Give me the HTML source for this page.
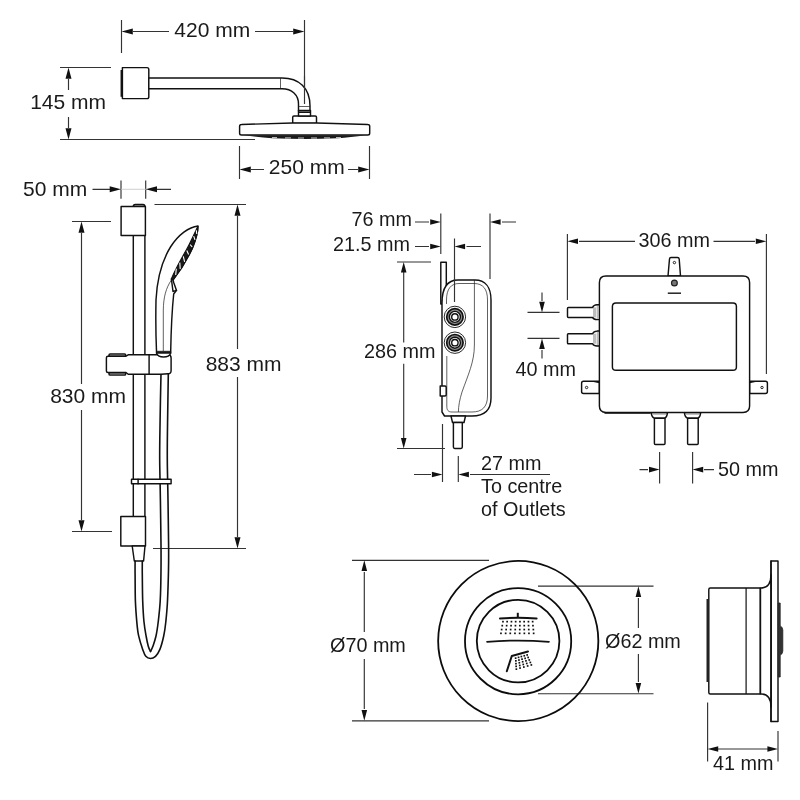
<!DOCTYPE html>
<html>
<head>
<meta charset="utf-8">
<title>Shower dimensions</title>
<style>
html,body{margin:0;padding:0;background:#fff;}
body{width:800px;height:800px;overflow:hidden;font-family:"Liberation Sans",sans-serif;}
svg{display:block;position:absolute;left:0;top:0;filter:grayscale(1);}
.o{fill:none;stroke:#111;stroke-width:1.45;stroke-linejoin:round;stroke-linecap:round;}
.of{fill:#fff;stroke:#111;stroke-width:1.45;stroke-linejoin:round;stroke-linecap:round;}
.t{fill:none;stroke:#1c1c1c;stroke-width:0.7;}
.k{fill:none;stroke:#111;stroke-width:1.9;stroke-linecap:round;stroke-linejoin:round;}
.h{stroke-width:1.6;}
.c{fill:none;stroke:#0c0c0c;stroke-width:1.8;}
.d{fill:none;stroke:#333;stroke-width:1.15;}
.a{fill:#111;stroke:none;}
text{font-family:"Liberation Sans",sans-serif;font-size:19.8px;fill:#1a1a1a;}
text.L{font-size:21px;}
</style>
</head>
<body>
<svg width="800" height="800" viewBox="0 0 800 800">
<rect width="800" height="800" fill="#fff"/>

<!-- ================= FIXED HEAD (top) ================= -->
<g id="fixedhead">
  <!-- dims 420 -->
  <path class="d" d="M121.5 20V53M304.5 20V104M133 31.5H169M255 31.5H293"/>
  <path class="a" d="M121.5 31.5l11.3-3v6zM304.5 31.5l-11.3-3v6z"/>
  <text class="L" x="174.3" y="37">420 mm</text>
  <!-- dims 145 -->
  <path class="d" d="M60 67.5H111M60 139.5H255M68.5 79V90M68.5 117V128"/>
  <path class="a" d="M68.5 67.5l-3 11.3h6zM68.5 139.5l-3-11.3h6z"/>
  <text class="L" x="30.2" y="109.2">145 mm</text>
  <!-- dims 250 -->
  <path class="d" d="M239.5 146V179M369.5 146V179M251 169.5H264M348 169.5H358"/>
  <path class="a" d="M239.5 169.5l11.3-3v6zM369.5 169.5l-11.3-3v6z"/>
  <text class="L" x="268.8" y="174">250 mm</text>
  <!-- bracket -->
  <path class="of" d="M122.4 67.6H147Q148.800 67.600 148.800 69.500V96.700Q148.800 98.600 147 98.600H122.400Z"/>
  <path d="M121.500 70V96.800" stroke="#111" stroke-width="1.900" fill="none"/>
  <!-- arm -->
  <path class="of" d="M148.800 78H282C299 78 310 88 310 106V111H298.500V104C298.500 95 292 88.800 282 88.800H148.800Z"/>
  <path class="t" d="M280.500 78V88.800M298.500 106.500H310"/>
  <!-- connector -->
  <path class="of" d="M292.700 123.500V117.300Q292.700 116 294 116H315.200Q316.500 116 316.500 117.300V123.500Z"/>
  <path class="of" d="M298.500 110.500H310.500V116H298.500Z"/>
  <path d="M298.500 112.200H310.500" stroke="#111" stroke-width="1.600" fill="none"/>
  <!-- head -->
  <path class="of" d="M239.600 126.300Q239.600 124.500 241.500 124.500L292.500 123H317L367.800 124.500Q369.700 124.500 369.700 126.300V133.200Q369.700 135 367.800 135H241.500Q239.600 135 239.600 133.200Z"/>
  <path class="d" d="M304.500 76V104"/>
  <path d="M244 135.300H365.500Q350 137.300 338 138.300Q305 139.600 272 138.300Q260 137.300 244 135.300Z" fill="#1a1a1a"/>
  <path d="M272 137.600h5M285 137.900h6M298 138h6M311 138h6M324 137.900h6M336 137.600h5" stroke="#ddd" stroke-width="0.900" fill="none"/>
</g>

<!-- ================= RAIL KIT (left) ================= -->
<g id="rail">
  <!-- 50 mm -->
  <path class="d" d="M121 180.500V198.700M145.700 180.500V198.700M92.500 189.300H110M157 189.300H171"/>
  <path d="M121 189.300H146" stroke="#c4c4c4" stroke-width="0.800" fill="none"/>
  <path class="a" d="M121 189.300l-11.3-3v6zM145.700 189.300l11.3-3v6z"/>
  <text class="L" x="23" y="196.3">50 mm</text>
  <!-- 883 -->
  <path class="d" d="M154.500 204.500H246M153 548.500H246M237.500 216V349M237.500 377V537"/>
  <path class="a" d="M237.500 204.500l-3 11.3h6zM237.500 548.500l-3-11.3h6z"/>
  <text class="L" x="205.7" y="370.6">883 mm</text>
  <!-- 830 -->
  <path class="d" d="M72 221.500H111M72 531.500H112M81.500 233V384M81.500 410V520"/>
  <path class="a" d="M81.500 221.500l-3 11.3h6zM81.500 531.500l-3-11.3h6z"/>
  <text class="L" x="50.2" y="403.4">830 mm</text>

  <!-- rail tube -->
  <path class="o" d="M133.300 235.500V517M144.900 235.500V517"/>
  <!-- top bracket -->
  <path class="of" d="M133.300 206.500Q133.300 204.400 135.300 204.400H143Q144.900 204.400 144.900 206.500Z"/>
  <path class="of" d="M121.100 206.500H145.400V235.500H121.100Z"/>
  <!-- bottom bracket -->
  <path class="of" d="M120.800 516.500H145.500V546H120.800Z"/>
  <path class="of" d="M132.200 546H145L143.600 561H134.300Z"/>
  <!-- hose (right side down from slider, loop, back to lower bracket) -->
  <path class="o h" d="M168.3 374.0C168.2 381.7 167.8 405.7 167.6 420.0C167.4 434.3 167.2 446.7 167.3 460.0C167.4 473.3 167.8 485.8 168.0 500.0C168.2 514.2 168.5 533.3 168.6 545.0C168.7 556.7 168.7 560.7 168.5 570.0C168.3 579.3 167.9 592.3 167.5 601.0C167.1 609.7 166.4 616.2 165.8 622.0C165.2 627.8 164.7 631.4 163.7 636.0C162.7 640.6 161.3 646.0 159.9 649.4C158.5 652.8 157.1 654.8 155.5 656.3C153.9 657.8 152.1 658.5 150.5 658.5C148.9 658.5 147.1 657.8 145.8 656.3C144.5 654.8 143.9 652.8 142.7 649.4C141.5 646.0 139.6 640.3 138.6 635.7C137.6 631.1 137.3 627.6 136.8 621.9C136.3 616.2 135.7 609.1 135.4 601.3C135.1 593.5 135.2 581.7 135.1 575.0C135.0 568.3 135.1 563.3 135.1 561.0"/>
  <path class="o h" d="M161.0 374.0C160.8 381.7 160.3 405.7 160.1 420.0C159.9 434.3 159.6 446.7 159.7 460.0C159.8 473.3 160.2 485.8 160.4 500.0C160.6 514.2 160.9 533.3 161.0 545.0C161.1 556.7 161.1 560.7 161.0 570.0C160.9 579.3 160.7 592.3 160.2 601.0C159.7 609.7 158.9 616.2 158.2 622.0C157.5 627.8 156.9 632.0 156.0 636.0C155.1 640.0 153.9 643.4 153.0 646.0C152.1 648.6 150.9 650.6 150.5 651.5"/>
  <path class="o h" d="M150.5 651.5C150.1 650.6 148.9 648.6 148.2 646.0C147.5 643.4 146.8 640.0 146.1 636.0C145.4 632.0 144.6 627.8 144.0 622.0C143.4 616.2 143.0 608.8 142.7 601.0C142.4 593.2 142.4 581.7 142.3 575.0C142.2 568.3 142.3 563.3 142.3 561.0"/>
  <!-- ring clip -->
  <path class="of" d="M131.500 479.300H171.100V483.700H131.500Z"/>
  <path class="o" d="M138.100 479.300V483.700"/>
  <!-- slider -->
  <path class="of" d="M109 356.200V355.100Q109 353.900 110.200 353.900H124.500Q125.700 353.900 125.700 355.100V356.200Z"/>
  <path class="of" d="M109 372.500V373.900Q109 375.100 110.200 375.100H124.500Q125.700 375.100 125.700 373.900V372.500Z" style="fill:#999"/>
  <path class="of" d="M108 356.200H126L128.200 354.800H168Q171.100 354.800 171.100 358V370.500Q171.100 373.800 168 373.800L161 374.200H128.200L126 372.500H108Q106.400 372.500 106.400 371V357.700Q106.400 356.200 108 356.200Z"/>
  <path class="o" d="M149.100 354.800V374.200"/>
  <!-- handset -->
  <path class="of" d="M198 226C189 227 178.500 234.500 170.500 247C162.500 260 157 280 156 300C155.600 320 156 340 156.500 351.300V353.300C158.500 358.300 168.700 358.300 170.700 353.300V351.300C171 335 171.500 315 173.700 294L176.500 290.400L173.700 282.500L173 280C180 271 187 260 192.500 248C196.500 238 198 230 198 226Z"/>
  <path d="M198 226C195 232 189.500 245 184.500 253C179.500 262 174.500 271 171.300 279L173 280C180 271 187 260 192.500 248C196.500 238 198 230 198 226Z" fill="#1a1a1a" stroke="#111" stroke-width="1.100"/>
  <path d="M196.3 230.2L196.8 234.0M193.7 236.1L195.0 239.9M190.2 244.6L192.2 247.0M186.8 250.5L188.6 254.5M183.3 256.4L184.6 261.8M179.8 262.6L180.2 269.0M176.3 268.6L175.7 275.0" stroke="#fff" stroke-width="1.100" fill="none"/>
  <path class="o" d="M171.400 279L173 291.500L176.500 290.400"/>
  <path class="t" d="M171.400 280C166 288 163.500 297 163.300 310V351"/>
  <path d="M156.500 351.300H170.700V353.300H156.500Z" fill="#1a1a1a" stroke="#111" stroke-width="0.8"/>
</g>

<!-- ================= VALVE SIDE VIEW ================= -->
<g id="valveside">
  <!-- 76 / 21.5 -->
  <path class="d" d="M440.800 213.500V254M490 213.500V279M454.500 238.500V302M415 222H429M502 222H516M415 246.500H429M466.500 246.500H481"/>
  <path class="a" d="M440.800 222l-10.6-2.8v5.6zM490 222l10.6-2.8v5.6zM440.800 246.500l-10.6-2.8v5.6zM454.500 246.500l10.6-2.8v5.6z"/>
  <text x="351.500" y="226">76 mm</text>
  <text x="333" y="250.500">21.5 mm</text>
  <!-- 286 -->
  <path class="d" d="M397 262H431M397 448.500H445M403.700 272V342.500M403.700 363.700V438"/>
  <path class="a" d="M403.700 262l-2.8 10.6h5.6zM403.700 448.500l-2.8-10.6h5.6z"/>
  <text x="364" y="358">286 mm</text>
  <!-- 27 -->
  <path class="d" d="M442.500 424V482M458.300 456V482M414 474.500H431M470 474.500H550"/>
  <path class="a" d="M442.500 474.500l-10.6-2.8v5.6zM458.300 474.500l10.6-2.8v5.6z"/>
  <text x="481" y="470">27 mm</text>
  <text x="481" y="493">To centre</text>
  <text x="481" y="515.500">of Outlets</text>

  <!-- backplate -->
  <path class="of" d="M440.800 262.300H446.300V300H442.500V304H440.800Z"/>
  <!-- body -->
  <path class="of" d="M442 303C442 289 447 280 458 280H475C485 280 491 287 491 300V398C491 410 484 416 472 416H444.500L442 412Z"/>
  <path class="t" d="M446.500 304V300C446.500 289 451 283.500 459 283.500H474C483 283.500 487.500 289 487.500 300V396C487.500 407 482 412 472 412H452C448 412 446.800 410 446.800 406V356"/>
  <path class="t" d="M474.400 280V345C474.400 362 468 375 462 392C459.500 400 458.500 406 458.400 412"/>
  <path class="of" d="M440.200 386H445Q446.200 386 446.200 387.200V394.800Q446.200 396 445 396H440.200Z"/>
  <!-- knobs -->
  <g id="knob">
    <circle cx="454.900" cy="316.900" r="10.700" fill="#fff" stroke="#2a2a2a" stroke-width="1"/>
    <circle cx="454.900" cy="316.900" r="8.200" fill="#8a8a8a" stroke="#111" stroke-width="1.700"/>
    <circle cx="454.900" cy="316.900" r="5.500" fill="#fff" stroke="#111" stroke-width="1.400"/>
    <circle cx="454.900" cy="316.900" r="3.200" fill="#fff" stroke="#111" stroke-width="1.400"/>
  </g>
  <use href="#knob" y="25.800"/>
  <path class="d" d="M454.500 279V302"/>
  <!-- outlet -->
  <path class="of" d="M451 416H465.500L464 422.500H452.500Z"/>
  <path class="of" d="M453.400 422.500H462.300V447Q462.300 448.400 461 448.400H454.700Q453.400 448.400 453.400 447Z"/>
</g>

<!-- ================= VALVE FRONT VIEW ================= -->
<g id="valvefront">
  <!-- 306 -->
  <path class="d" d="M567.400 234V300M766.400 234V374M579 241.300H635M713.500 241.300H755"/>
  <path class="a" d="M567.400 241.300l10.6-2.8v5.6zM766.400 241.300l-10.6-2.8v5.6z"/>
  <text x="638.500" y="246.500">306 mm</text>
  <!-- 40 -->
  <path class="d" d="M527.500 312.400H559.500M527.500 338.400H559.500M542 292.500V301M542 350V358.500"/>
  <path class="a" d="M542 312.400l-2.8-10.6h5.6zM542 338.400l-2.8 10.6h5.6z"/>
  <text x="515.500" y="376">40 mm</text>
  <!-- 50 -->
  <path class="d" d="M659.600 452V483.500M692.600 452V483.500M639.500 469.600H648M704 469.600H714"/>
  <path class="a" d="M659.600 469.600l-10.6-2.8v5.6zM692.600 469.600l10.6-2.8v5.6z"/>
  <text x="718" y="476">50 mm</text>

  <!-- top tab -->
  <path class="of" d="M668 276L669.500 259Q669.600 257.400 671 257.400H677.500Q679 257.400 679.200 259L680.500 276Z"/>
  <circle cx="674.400" cy="262.600" r="1.200" fill="#fff" stroke="#111" stroke-width="0.900"/>
  <!-- side tabs -->
  <path class="of" d="M599.400 381.300H583.500Q581.600 381.300 581.600 383.200V391.600Q581.600 393.500 583.500 393.500H599.400Z"/>
  <circle cx="586.600" cy="387.500" r="1.200" fill="#fff" stroke="#111" stroke-width="0.900"/>
  <path d="M590 381.300H599.400V383.200Z" fill="#111"/>
  <path class="of" d="M749.600 381.300H765.500Q767.400 381.300 767.400 383.200V391.600Q767.400 393.500 765.500 393.500H749.600Z"/>
  <circle cx="762" cy="387.500" r="1.200" fill="#fff" stroke="#111" stroke-width="0.900"/>
  <path d="M759 381.300H749.600V383.200Z" fill="#111"/>
  <!-- inlet pipes -->
  <g id="inpipe">
    <path d="M593 307.400H596.200V317.400H593Z" fill="#bdbdbd"/>
    <path d="M597.400 305V319.800" stroke="#bdbdbd" stroke-width="1.300" fill="none"/>
    <path class="o" d="M599.400 304.800H597Q593.600 305 592.600 307.400H568.300Q567.500 307.400 567.500 308.200V316.600Q567.500 317.400 568.300 317.400H592.600Q593.600 319.600 597 319.600H599.400"/>
  </g>
  <use href="#inpipe" y="26.300"/>
  <!-- outlets -->
  <g id="outpipe">
    <path class="of" d="M651.200 412.600H667.500Q667 417 664.800 418.200H654.200Q651.700 417 651.200 412.600Z"/>
    <path d="M652.500 414.400H666.300" stroke="#aaa" stroke-width="0.800" fill="none"/>
    <path class="of" d="M654.400 418.300H665V443.500Q665 444.500 664 444.500H655.400Q654.400 444.500 654.400 443.500Z"/>
  </g>
  <use href="#outpipe" x="33.200"/>
  <!-- box -->
  <path class="of" d="M606 276H743Q749.600 276 749.600 282.500V406Q749.600 412.400 743 412.400H606Q599.400 412.400 599.400 406V282.500Q599.400 276 606 276Z"/>
  <path class="k" d="M605 413H650" style="stroke-width:1.600"/>
  <path class="o" d="M616 303H733Q736.400 303 736.400 306.500V367Q736.400 370.300 733 370.300H616Q612.400 370.300 612.400 367V306.500Q612.400 303 616 303Z"/>
  <circle cx="674.400" cy="283" r="2.900" fill="#777" stroke="#222" stroke-width="1.200"/>
  <path d="M667.800 293.200H681" stroke="#222" stroke-width="1.500" fill="none"/>
</g>

<!-- ================= ROUND CONTROL FRONT ================= -->
<g id="controlfront">
  <!-- Ø70 -->
  <path class="d" d="M352 560.400H489M352 720.800H489M364.300 572V632M364.300 659V709"/>
  <path class="a" d="M364.300 560.300l-2.8 10.6h5.6zM364.300 720.700l-2.8-10.6h5.6z"/>
  <text x="330" y="652">Ø70 mm</text>
  <!-- Ø62 -->
  <path class="d" d="M538 586.100H653.500M538 693.700H653.500M638.400 598V628M638.400 654V682"/>
  <path class="a" d="M638.400 586.300l-2.8 10.6h5.6zM638.400 693.500l-2.8-10.6h5.6z"/>
  <text x="605" y="647.500">Ø62 mm</text>

  <circle class="c" cx="518.250" cy="641" r="80.100"/>
  <circle class="c" cx="518.100" cy="641.200" r="53.100"/>
  <circle class="c" cx="518.100" cy="641.100" r="41.300"/>
  <!-- divider -->
  <path d="M487 641.800Q518 639.400 549 641.800" fill="none" stroke="#111" stroke-width="1.700" stroke-linecap="round"/>
  <!-- overhead icon -->
  <path d="M517.800 612.800V618" stroke="#111" stroke-width="2" fill="none"/>
  <path d="M500 618.400Q518 617.300 536.600 618.400" stroke="#111" stroke-width="2" fill="none" stroke-linecap="round"/>
  <g fill="#111" id="dots1"><rect x="502.1" y="620.8" width="1.7" height="1.7"/><rect x="506.3" y="620.8" width="1.7" height="1.7"/><rect x="510.6" y="620.8" width="1.7" height="1.7"/><rect x="514.8" y="620.8" width="1.7" height="1.7"/><rect x="519.1" y="620.8" width="1.7" height="1.7"/><rect x="523.3" y="620.8" width="1.7" height="1.7"/><rect x="527.6" y="620.8" width="1.7" height="1.7"/><rect x="531.8" y="620.8" width="1.7" height="1.7"/><rect x="501.4" y="624.8" width="1.7" height="1.7"/><rect x="505.8" y="624.8" width="1.7" height="1.7"/><rect x="510.2" y="624.8" width="1.7" height="1.7"/><rect x="514.6" y="624.8" width="1.7" height="1.7"/><rect x="519.0" y="624.8" width="1.7" height="1.7"/><rect x="523.4" y="624.8" width="1.7" height="1.7"/><rect x="527.7" y="624.8" width="1.7" height="1.7"/><rect x="532.1" y="624.8" width="1.7" height="1.7"/><rect x="500.8" y="628.7" width="1.7" height="1.7"/><rect x="505.3" y="628.7" width="1.7" height="1.7"/><rect x="509.8" y="628.7" width="1.7" height="1.7"/><rect x="514.4" y="628.7" width="1.7" height="1.7"/><rect x="518.9" y="628.7" width="1.7" height="1.7"/><rect x="523.4" y="628.7" width="1.7" height="1.7"/><rect x="527.9" y="628.7" width="1.7" height="1.7"/><rect x="532.5" y="628.7" width="1.7" height="1.7"/><rect x="500.1" y="632.5" width="1.7" height="1.7"/><rect x="504.8" y="632.5" width="1.7" height="1.7"/><rect x="509.4" y="632.5" width="1.7" height="1.7"/><rect x="514.1" y="632.5" width="1.7" height="1.7"/><rect x="518.8" y="632.5" width="1.7" height="1.7"/><rect x="523.5" y="632.5" width="1.7" height="1.7"/><rect x="528.1" y="632.5" width="1.7" height="1.7"/><rect x="532.8" y="632.5" width="1.7" height="1.7"/></g>
  <!-- hand icon -->
  <path d="M506.800 671.200L511.800 656L528 651.500" stroke="#111" stroke-width="2" fill="none" stroke-linecap="round" stroke-linejoin="round"/>
  <g fill="#111" id="dots2"><rect x="514.8" y="657.3" width="1.7" height="1.7"/><rect x="517.7" y="656.5" width="1.7" height="1.7"/><rect x="520.5" y="655.7" width="1.7" height="1.7"/><rect x="523.4" y="654.9" width="1.7" height="1.7"/><rect x="526.3" y="654.1" width="1.7" height="1.7"/><rect x="515.0" y="660.0" width="1.7" height="1.7"/><rect x="518.1" y="659.2" width="1.7" height="1.7"/><rect x="521.2" y="658.3" width="1.7" height="1.7"/><rect x="524.3" y="657.5" width="1.7" height="1.7"/><rect x="527.3" y="656.6" width="1.7" height="1.7"/><rect x="515.1" y="662.8" width="1.7" height="1.7"/><rect x="518.5" y="661.9" width="1.7" height="1.7"/><rect x="521.8" y="660.9" width="1.7" height="1.7"/><rect x="525.1" y="660.0" width="1.7" height="1.7"/><rect x="528.4" y="659.1" width="1.7" height="1.7"/><rect x="515.3" y="665.5" width="1.7" height="1.7"/><rect x="518.9" y="664.6" width="1.7" height="1.7"/><rect x="522.4" y="663.6" width="1.7" height="1.7"/><rect x="525.9" y="662.6" width="1.7" height="1.7"/><rect x="529.5" y="661.6" width="1.7" height="1.7"/><rect x="515.5" y="668.3" width="1.7" height="1.7"/><rect x="519.2" y="667.2" width="1.7" height="1.7"/><rect x="523.0" y="666.2" width="1.7" height="1.7"/><rect x="526.8" y="665.1" width="1.7" height="1.7"/><rect x="530.5" y="664.1" width="1.7" height="1.7"/></g>
</g>

<!-- ================= ROUND CONTROL SIDE ================= -->
<g id="controlside">
  <!-- 41 -->
  <path class="d" d="M707.600 702.500V761.500M778 731V761.500M718 749H768"/>
  <path class="a" d="M707.600 749l10.6-2.8v5.6zM778 749l-10.6-2.8v5.6z"/>
  <text x="713" y="770">41 mm</text>
  <!-- flange -->
  <path class="of" d="M771 560.900H778V721.500H771Z"/>
  <path d="M778.200 603H780.200V626Q782.800 627 782.800 630V651Q782.800 654 780.200 655V677H778.200Z" fill="#333" stroke="#222" stroke-width="0.800"/>
  <!-- body -->
  <path class="of" d="M710.300 588H761C767.500 588 771 583 771 574.500V707C771 699 767.500 694 761 694H710.300Q708.800 694 708.800 692.500V589.500Q708.800 588 710.300 588Z"/>
  <path class="o" d="M771 560.900V721.500"/>
  <path d="M746.100 588V694" stroke="#111" stroke-width="1.200" fill="none"/>
  <path class="k" d="M760.300 588.500V693.500" style="stroke-width:1.800"/>
  <path d="M707.500 599V682" stroke="#222" stroke-width="2" fill="none"/>
</g>
</svg>
</body>
</html>
